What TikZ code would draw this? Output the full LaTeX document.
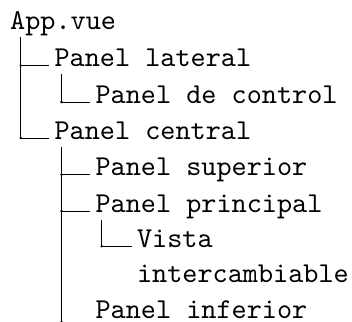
\documentclass[tikz,border=0pt]{standalone}
\begin{document}
\begin{tikzpicture}[x=1pt,y=-1pt,
  lbl/.style={anchor=base west,inner sep=0pt,scale=2.88,transform shape,font=\fontsize{10}{12.15}\selectfont\ttfamily},
  link/.style={line width=0.7pt,black}]
\useasboundingbox (0,0) rectangle (352,321);
\clip (0,0) rectangle (352,321);
\coordinate (v1) at (20.7,0);
\coordinate (v2) at (61.6,0);
\coordinate (v3) at (101.8,0);
\node[lbl] (app) at (9.6,29.4) {App.vue};
\node[lbl] (lat) at (54,66.5) {Panel lateral};
\node[lbl] (dc)  at (95,103) {Panel de control};
\node[lbl] (cen) at (54,139) {Panel central};
\node[lbl] (sup) at (95,175.5) {Panel superior};
\node[lbl] (pri) at (95,212) {Panel principal};
\node[lbl] (vis) at (136.5,247.2) {\begin{tabular}[t]{@{}l@{}}Vista\\intercambiable\end{tabular}};
\node[lbl] (inf) at (95,318.6) {Panel inferior};
\foreach \c/\v in {lat/v1,cen/v1,dc/v2,sup/v2,pri/v2,vis/v3} {
  \coordinate (\c-k) at ([yshift=1pt]\c.base -| \v);
  \draw[link] (\c-k) -- ([xshift=-5pt,yshift=1pt]\c.base west);
  \fill (\c-k) circle[radius=1.4pt];
}
\coordinate (inf-k) at ([yshift=-3.6pt]inf.base -| v2);
\draw[link] (inf-k) -- ([xshift=-5pt,yshift=-3.6pt]inf.base west);
\fill (inf-k) circle[radius=1.6pt];
\draw[link] ([yshift=-7.6pt]app.base -| v1) -- (cen-k);
\draw[link] ([yshift=-7.6pt]lat.base -| v2) -- (dc-k);
\draw[link] ([yshift=-7.6pt]cen.base -| v2) -- (inf-k);
\draw[link] ([yshift=-7.6pt]pri.base -| v3) -- (vis-k);
\end{tikzpicture}
\end{document}
